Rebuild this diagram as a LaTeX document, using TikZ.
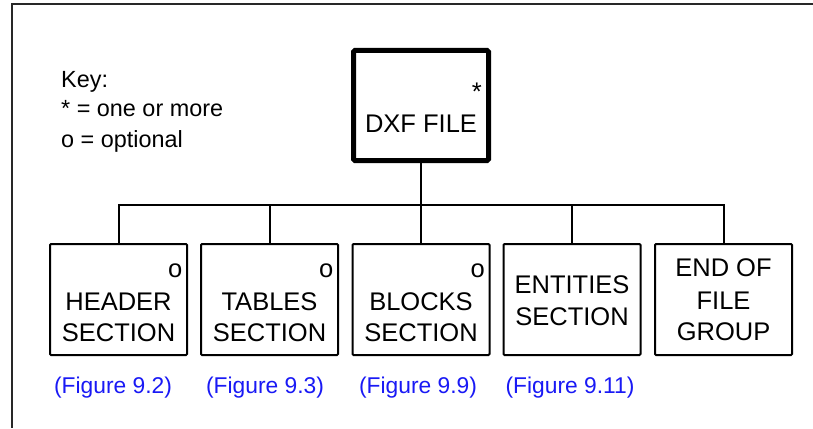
\documentclass[tikz,border=0pt]{standalone}
\usepackage{fontspec}
\setmainfont{Liberation Sans}
\definecolor{figblue}{RGB}{25,25,245}
\definecolor{framegray}{RGB}{40,40,40}
\begin{document}
\begin{tikzpicture}[x=1pt,y=-1pt,
  boxtxt/.style={font=\fontsize{25.5}{31}\selectfont, inner sep=0pt, anchor=base},
  keytxt/.style={font=\fontsize{23.4}{29}\selectfont, inner sep=0pt, anchor=base west},
  figtxt/.style={font=\fontsize{22.8}{28}\selectfont, inner sep=0pt, anchor=base, text=figblue},
  cornermark/.style={font=\fontsize{25.5}{31}\selectfont, inner sep=0pt, anchor=base east},
  topbox/.style={draw, line width=5pt, rounded corners=1.5pt, minimum width=135pt, minimum height=110pt, inner sep=0pt},
  childbox/.style={draw, line width=2pt, rounded corners=1pt, minimum width=137pt, minimum height=111pt, inner sep=0pt},
  conn/.style={line width=2pt}]
\useasboundingbox (0,0) rectangle (813,428);
% frame
\draw[line width=2pt, framegray] (813,4) -- (12,4) -- (12,428);
% key
\node[keytxt] (key1) at (61,87) {Key:};
\node[keytxt] (key2) at (61,116) {* = one or more};
\node[keytxt] (key3) at (61,147) {o = optional};
% top box
\node[topbox] (dxf) at (421,105.5) {};
\node[cornermark] (dxfmark) at (482,100) {*};
\node[boxtxt] (dxftxt) at (421,132) {DXF FILE};
% children
\node[childbox] (c1) at (118.5,299.5) {};
\node[childbox] (c2) at (269.5,299.5) {};
\node[childbox] (c3) at (421,299.5) {};
\node[childbox] (c4) at (572,299.5) {};
\node[childbox] (c5) at (723.5,299.5) {};
% connectors
\coordinate (bus) at (421,205);
\draw[conn] (dxf.south) -- (bus);
\draw[conn] (c1.north) |- (bus) -| (c5.north);
\draw[conn] (c2.north) -- (c2.north |- bus);
\draw[conn] (c3.north) -- (c3.north |- bus);
\draw[conn] (c4.north) -- (c4.north |- bus);
% child texts
\node[cornermark] (o1) at (182.5,277) {o};
\node[boxtxt] (h1) at (118.5,310) {HEADER};
\node[boxtxt] (h2) at (118.5,341) {SECTION};
\node[cornermark] (o2) at (333.5,277) {o};
\node[boxtxt] (t1) at (269.5,310) {TABLES};
\node[boxtxt] (t2) at (269.5,341) {SECTION};
\node[cornermark] (o3) at (485,277) {o};
\node[boxtxt] (b1) at (421,310) {BLOCKS};
\node[boxtxt] (b2) at (421,341) {SECTION};
\node[boxtxt] (e1) at (572,293) {ENTITIES};
\node[boxtxt] (e2) at (572,325) {SECTION};
\node[boxtxt] (g1) at (723.5,276) {END OF};
\node[boxtxt] (g2) at (723.5,309) {FILE};
\node[boxtxt] (g3) at (723.5,340) {GROUP};
% figure refs
\node[figtxt] (f1) at (113,393) {(Figure 9.2)};
\node[figtxt] (f2) at (265,393) {(Figure 9.3)};
\node[figtxt] (f3) at (418,393) {(Figure 9.9)};
\node[figtxt] (f4) at (570,393) {(Figure 9.11)};
\end{tikzpicture}
\end{document}
